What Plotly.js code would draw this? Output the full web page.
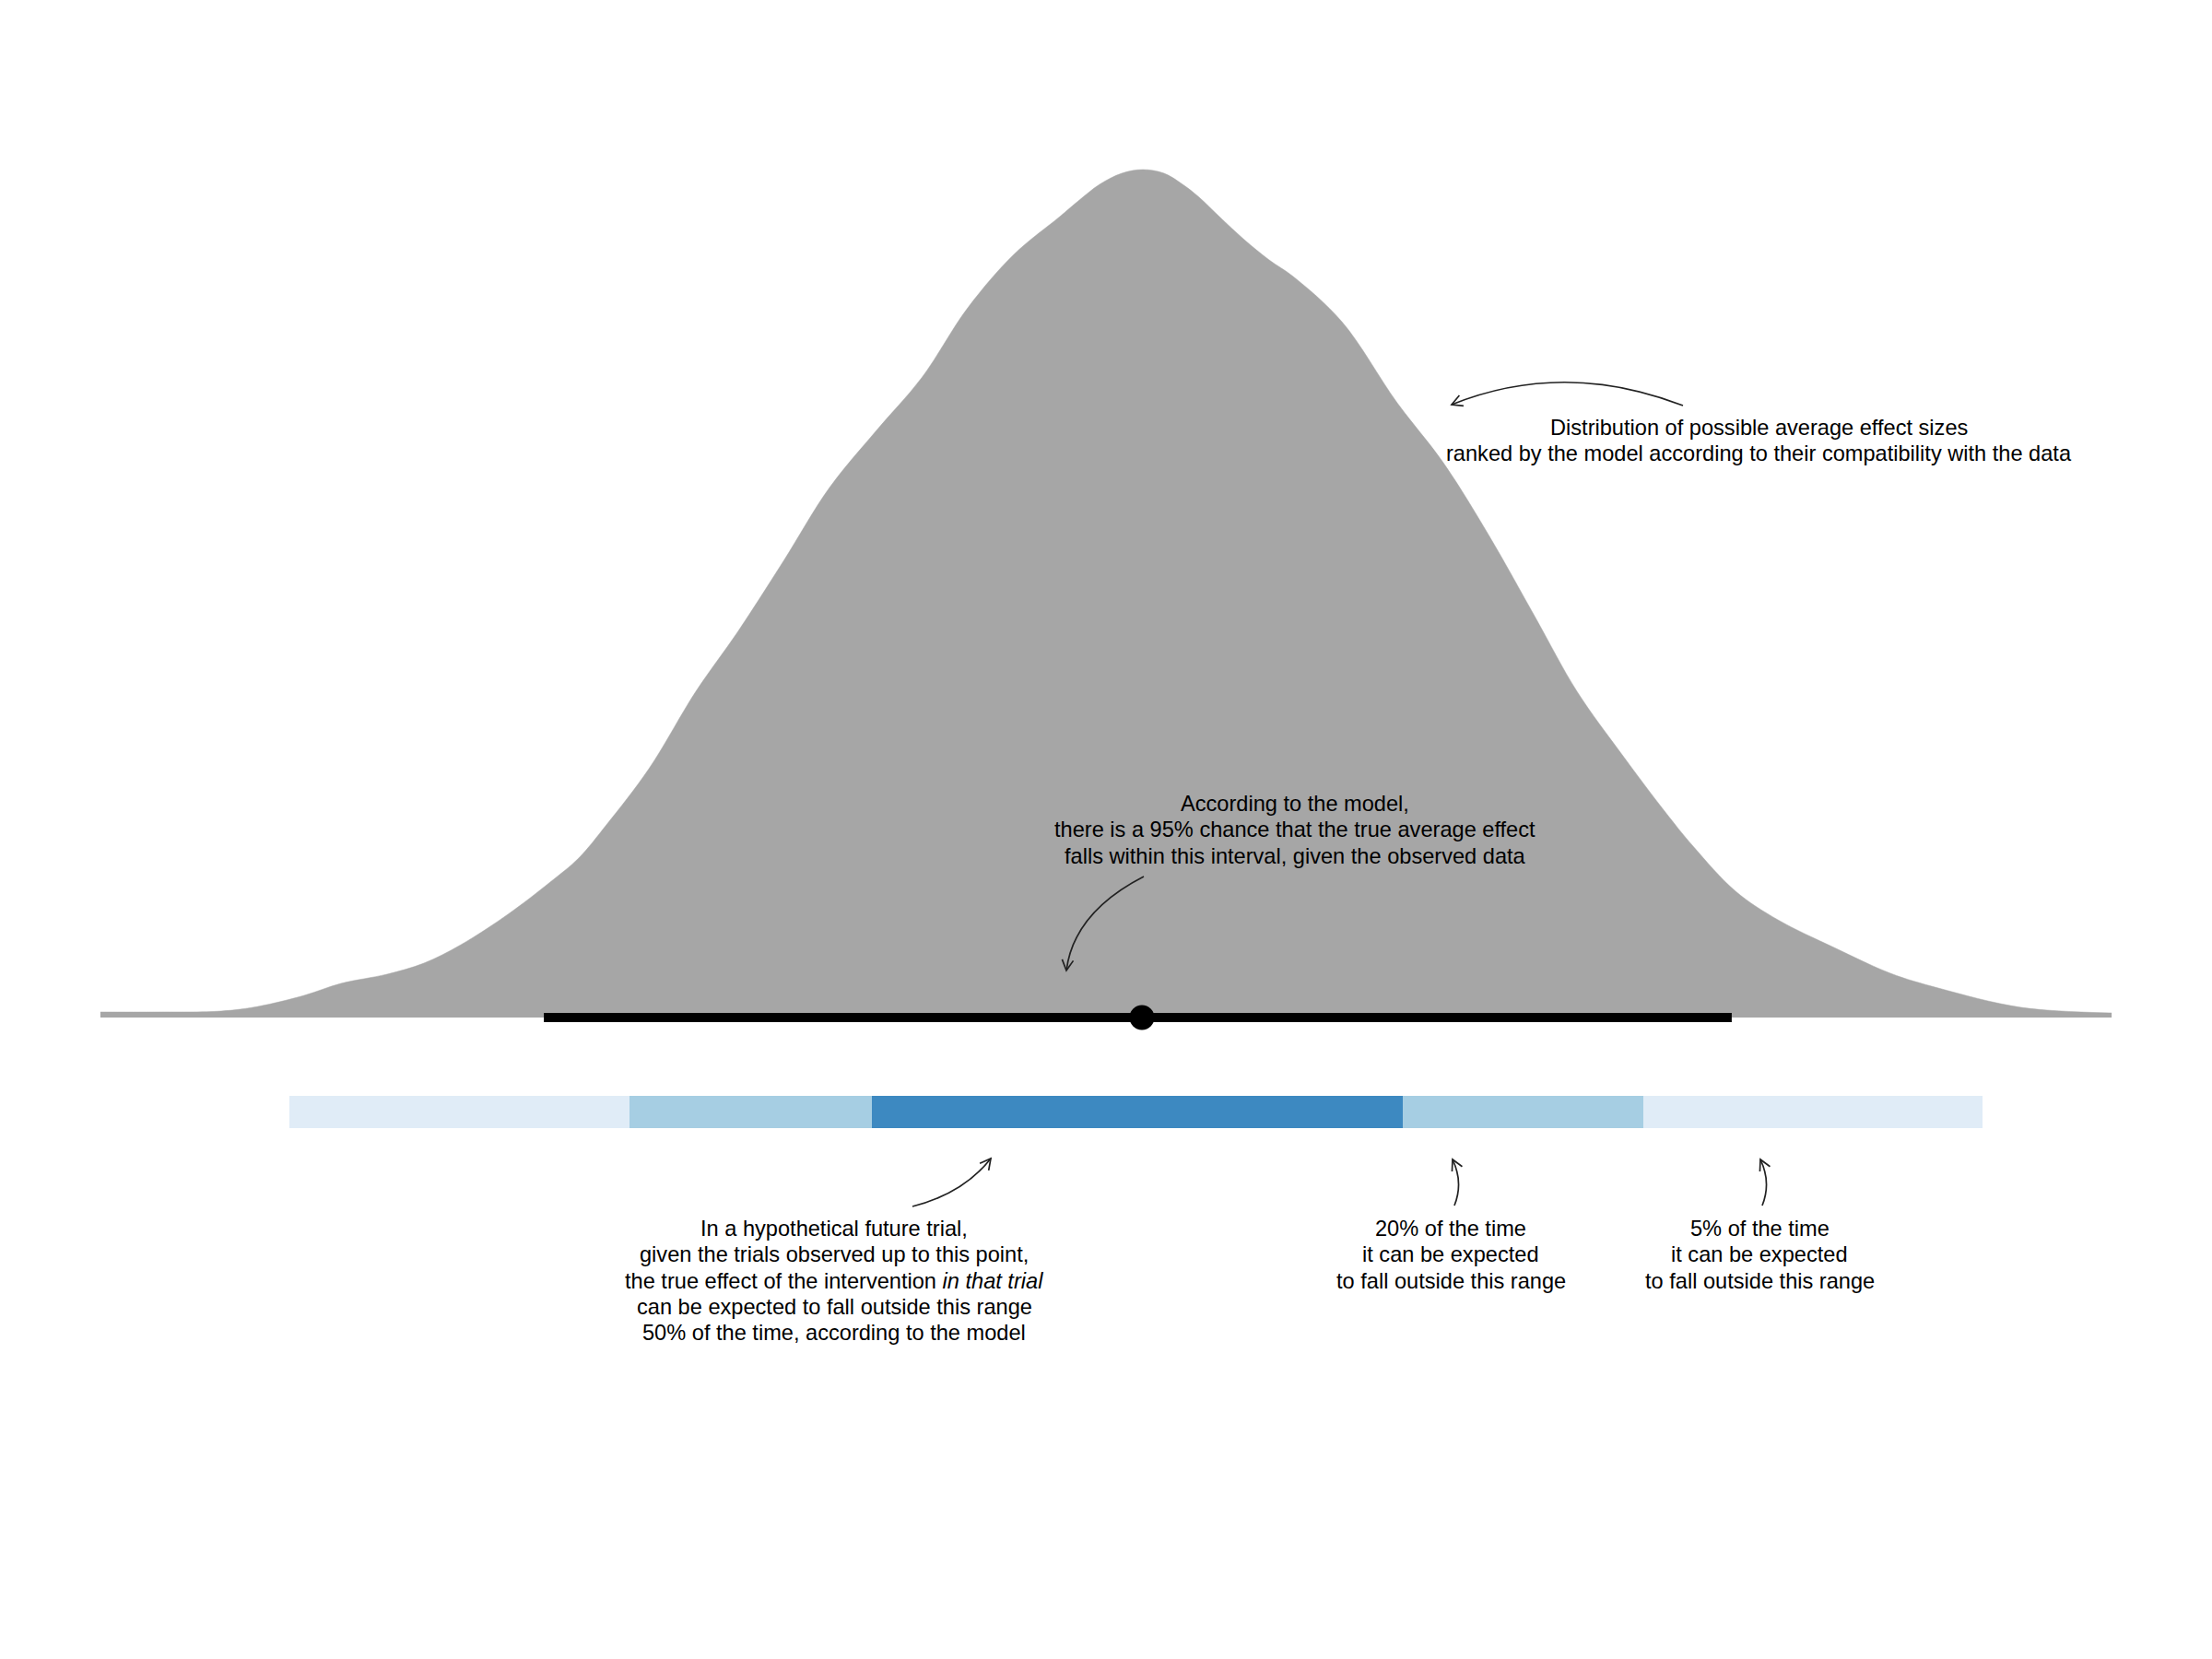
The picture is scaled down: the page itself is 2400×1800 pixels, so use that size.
<!DOCTYPE html>
<html>
<head>
<meta charset="utf-8">
<script src="https://cdn.plot.ly/plotly-3.0.1.min.js"></script>
<style>html,body{margin:0;padding:0;background:#fff}#chart{width:2400px;height:1800px}</style>
</head>
<body>
<div id="chart"></div>
<script>
// ---------- data ----------
// posterior distribution of the average effect (effect units vs density)
const densityX = [-3.767,-3.563,-3.33,-3.197,-3.03,-2.897,-2.73,-2.597,-2.463,-2.293,-2.14,-2.037,-1.937,-1.783,-1.613,-1.463,-1.297,-1.13,-0.963,-0.797,-0.63,-0.463,-0.297,-0.23,-0.153,-0.073,0.003,0.08,0.147,0.203,0.28,0.37,0.46,0.547,0.723,0.923,1.09,1.257,1.423,1.573,1.737,1.89,1.993,2.147,2.3,2.503,2.707,2.88,3.18,3.507];
const densityY = [0.003,0.003,0.0035,0.006,0.012,0.0185,0.0235,0.0295,0.0395,0.056,0.0735,0.0865,0.1045,0.135,0.177,0.209,0.2475,0.2875,0.318,0.347,0.385,0.414,0.4345,0.443,0.452,0.458,0.46,0.458,0.452,0.4455,0.4345,0.422,0.411,0.402,0.3775,0.3335,0.301,0.261,0.217,0.177,0.1425,0.112,0.093,0.0685,0.053,0.038,0.024,0.016,0.0055,0.0025];

// 95% credible interval and point estimate of the average effect
const credibleInterval = [-2.163, 2.133];
const pointEstimate = [0];

// prediction intervals for the effect in a new trial
const piLevels = ["95%", "80%", "50%"];
const piLower = [-3.083, -1.853, -0.977];
const piUpper = [3.04, 1.813, 0.943];
const piColors = ["#e0ecf7", "#a6cee3", "#3d89c1"];

// annotation texts (one entry per line)
const textDistribution = ["Distribution of possible average effect sizes",
  "ranked by the model according to their compatibility with the data"];
const textCredible = ["According to the model,",
  "there is a 95% chance that the true average effect",
  "falls within this interval, given the observed data"];
const text50 = ["In a hypothetical future trial,",
  "given the trials observed up to this point,",
  "the true effect of the intervention <i>in that trial</i>",
  "can be expected to fall outside this range",
  "50% of the time, according to the model"];
const text20 = ["20% of the time", "it can be expected", "to fall outside this range"];
const text5 = ["5% of the time", "it can be expected", "to fall outside this range"];

// ---------- layout helpers ----------
const W = 2400, H = 1800;
const BAR_Y = -0.05125, BAR_H = 0.0175;
const FONT = {family: "'Liberation Sans', Arial, Helvetica, sans-serif", size: 23.6, color: "#000"};
const LINE_GAP = 28.3;

function px(X) { return X / W; }
function py(Y) { return 1 - Y / H; }

const annotations = [];
function textBlock(lines, cx, y0) {
  lines.forEach((t, i) => {
    annotations.push({text: t, xref: "paper", yref: "paper", x: px(cx), y: py(y0 + i * LINE_GAP),
      xanchor: "center", yanchor: "middle", showarrow: false, font: FONT});
  });
}
textBlock(textDistribution, 1908, 464);
textBlock(textCredible, 1405, 872);
textBlock(text50, 905, 1333);
textBlock(text20, 1574, 1333);
textBlock(text5, 1909, 1333);

const shapes = [];
function curvedArrow(x0, y0, cx, cy, x1, y1) {
  const pth = `M ${px(x0)} ${py(y0)} Q ${px(cx)} ${py(cy)} ${px(x1)} ${py(y1)}`;
  shapes.push({type: "path", xref: "paper", yref: "paper", path: pth,
    line: {color: "#222", width: 1.7}});
  let dx = x1 - cx, dy = y1 - cy;
  const n = Math.hypot(dx, dy); dx /= n; dy /= n;
  const L = 13, a = 28 * Math.PI / 180;
  const ax = x1 - L * (dx * Math.cos(a) - dy * Math.sin(a));
  const ay = y1 - L * (dx * Math.sin(a) + dy * Math.cos(a));
  const bx = x1 - L * (dx * Math.cos(-a) - dy * Math.sin(-a));
  const by = y1 - L * (dx * Math.sin(-a) + dy * Math.cos(-a));
  shapes.push({type: "path", xref: "paper", yref: "paper",
    path: `M ${px(ax)} ${py(ay)} L ${px(x1)} ${py(y1)} L ${px(bx)} ${py(by)}`,
    line: {color: "#222", width: 1.7}});
}
curvedArrow(1826, 440, 1697, 390, 1575, 439);
curvedArrow(1241, 951, 1165, 990, 1157, 1053);
curvedArrow(990, 1309, 1045, 1295, 1075, 1257);
curvedArrow(1578, 1308, 1588, 1283, 1576, 1258);
curvedArrow(1912, 1308, 1922, 1283, 1910, 1258);

// ---------- traces ----------
const traces = [];
traces.push({type: "scatter", mode: "lines", x: densityX, y: densityY, fill: "tozeroy",
  fillcolor: "#a6a6a6", line: {color: "#a6a6a6", width: 0.5, shape: "spline", smoothing: 1.0},
  hoverinfo: "skip", showlegend: false});

piLevels.forEach((lvl, i) => {
  traces.push({type: "bar", orientation: "h", name: lvl, y: [BAR_Y], base: [piLower[i]],
    x: [piUpper[i] - piLower[i]], width: [BAR_H], marker: {color: piColors[i], line: {width: 0}},
    hoverinfo: "skip", showlegend: false});
});

traces.push({type: "scatter", mode: "lines", x: credibleInterval, y: [0, 0],
  line: {color: "#000", width: 10}, hoverinfo: "skip", showlegend: false});
traces.push({type: "scatter", mode: "markers", x: pointEstimate, y: [0],
  marker: {color: "#000", size: 27}, hoverinfo: "skip", showlegend: false});

const layout = {
  width: W, height: H, margin: {l: 0, r: 0, t: 0, b: 0},
  paper_bgcolor: "#fff", plot_bgcolor: "#fff",
  barmode: "overlay", bargap: 0,
  xaxis: {range: [-4.13, 3.87], visible: false, showgrid: false, zeroline: false, fixedrange: true},
  yaxis: {range: [-0.348, 0.552], visible: false, showgrid: false, zeroline: false, fixedrange: true},
  showlegend: false, annotations: annotations, shapes: shapes, font: FONT
};

Plotly.newPlot("chart", traces, layout, {staticPlot: true, displayModeBar: false});
</script>
</body>
</html>
